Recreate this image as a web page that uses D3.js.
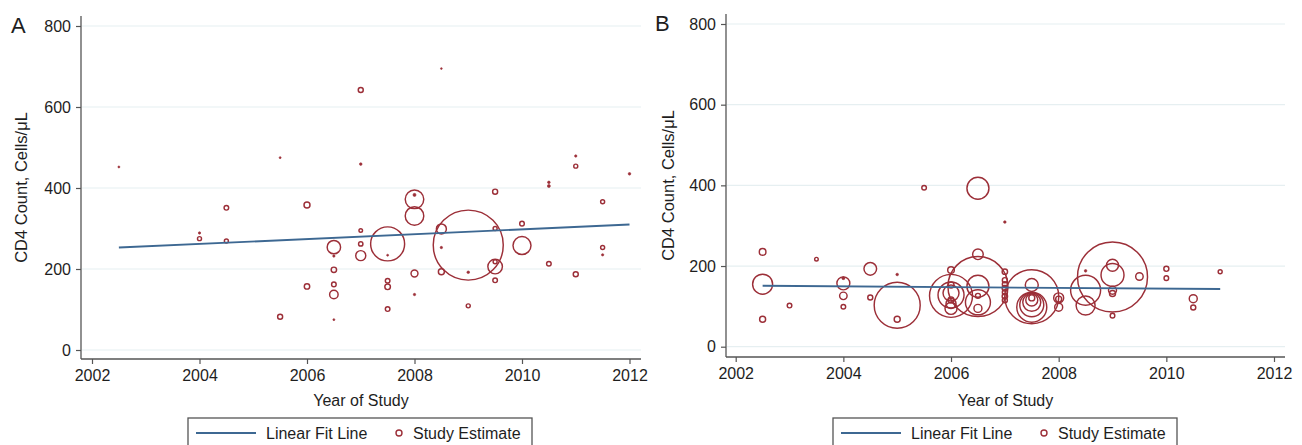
<!DOCTYPE html>
<html>
<head>
<meta charset="utf-8">
<script src="https://cdn.jsdelivr.net/npm/d3@7"></script>
<style>
  body { margin: 0; background: #fff; }
  text { font-family: "Liberation Sans", Arial, Helvetica, sans-serif; fill: #1e1e1e; }
</style>
</head>
<body>
<div id="chart"></div>
<script>
// data: year, CD4 count, study weight (bubble area)
var yearA = [2002.5, 2004, 2004, 2004.5, 2004.5, 2005.5, 2005.5, 2006, 2006,
  2006.5, 2006.5, 2006.5, 2006.5, 2006.5, 2006.5, 2007, 2007, 2007, 2007, 2007,
  2007.5, 2007.5, 2007.5, 2007.5, 2007.5, 2008, 2008, 2008, 2008, 2008,
  2008.5, 2008.5, 2008.5, 2008.5, 2009, 2009, 2009, 2009.5, 2009.5, 2009.5, 2009.5, 2009.5,
  2010, 2010, 2010.5, 2010.5, 2010.5, 2011, 2011, 2011, 2011.5, 2011.5, 2011.5, 2012];
var cd4A = [452, 289, 275, 351, 269, 475, 82, 358, 157,
  254, 232, 198, 162, 137, 75, 642, 459, 295, 262, 233,
  262, 234, 171, 156, 101, 383, 372, 331, 189, 137,
  695, 299, 253, 193, 259, 192, 109, 391, 300, 218, 206, 172,
  312, 258, 414, 405, 213, 479, 454, 187, 366, 253, 235, 435];
var weightA = [1, 1.4, 4, 5.3, 4, 1, 6.3, 9, 7.3,
  45, 1.4, 7.3, 5.3, 18, 1, 6.3, 1.7, 3.2, 4.8, 25,
  289, 1, 5.3, 7.8, 5.3, 2.3, 86, 86, 12, 1.4,
  0.6, 25, 1.4, 9, 1225, 1.7, 4, 6.3, 4, 4, 53, 5.3,
  5.3, 81, 1.7, 2.3, 5.3, 1.4, 4, 6.3, 4, 4, 1.4, 1.7];

var yearB = [2002.5, 2002.5, 2002.5, 2003, 2003.5, 2004, 2004, 2004, 2004, 2004.5, 2004.5,
  2005, 2005, 2005, 2005.5,
  2006, 2006, 2006, 2006, 2006, 2006, 2006, 2006,
  2006.5, 2006.5, 2006.5, 2006.5, 2006.5, 2006.5, 2006.5,
  2007, 2007, 2007, 2007, 2007, 2007, 2007, 2007,
  2007.5, 2007.5, 2007.5, 2007.5, 2007.5, 2007.5, 2007.5,
  2008, 2008, 2008, 2008.5, 2008.5, 2008.5,
  2009, 2009, 2009, 2009, 2009, 2009, 2009.5, 2010, 2010, 2010.5, 2010.5, 2011];
var cd4B = [235, 155, 68, 102, 217, 170, 157, 126, 99, 193, 122,
  179, 103, 68, 394,
  190, 153, 126, 128, 133, 116, 107, 95,
  393, 229, 149, 150, 110, 126, 95,
  309, 186, 165, 155, 145, 135, 125, 115,
  124, 153, 98, 104, 110, 116, 121,
  121, 118, 98, 188, 140, 102,
  173, 202, 178, 140, 132, 77, 174, 193, 170, 119, 97, 186];
var weightB = [11, 100, 9, 5.3, 3.2, 2.3, 42, 14, 5.3, 40, 6.3,
  1.7, 529, 9, 5.3,
  11, 9, 462, 169, 64, 9, 25, 36,
  121, 28, 900, 121, 156, 6.3, 16,
  1.7, 7.3, 6.3, 6.3, 7.3, 6.3, 7.3, 6.3,
  729, 42, 225, 144, 81, 36, 9,
  25, 9, 16, 1.7, 225, 90,
  1225, 36, 132, 16, 9, 5.3, 14, 6.3, 5.3, 16, 6.3, 4];

// linear fit line end points
var fitYearA = [2002.5, 2012];
var fitCd4A = [253, 310];
var fitYearB = [2002.5, 2011];
var fitCd4B = [151, 143];

var yTicks = [0, 200, 400, 600, 800];
var xTicks = [2002, 2004, 2006, 2008, 2010, 2012];

var red = "#9c2f38";
var blue = "#3d6892";

var svg = d3.select("#chart").append("svg")
  .attr("width", 1302)
  .attr("height", 445);

var rScale = d3.scaleSqrt().domain([0, 1225]).range([0, 35]);

function drawPanel(p, years, cd4, weights, fitX, fitY) {
  var g = svg.append("g");
  var x = d3.scaleLinear().domain([2002, 2012]).range([p.x0, p.x1]);
  var y = d3.scaleLinear().domain([0, 800]).range([p.y0, p.y1]);

  // gridlines
  g.selectAll(".grid").data(yTicks).enter().append("line")
    .attr("x1", p.left + 1).attr("x2", p.right)
    .attr("y1", d => y(d)).attr("y2", d => y(d))
    .attr("stroke", "#e6eff1").attr("stroke-width", 1.2);

  // axes
  var yAxis = g.append("g")
    .attr("transform", `translate(${p.left},0)`)
    .call(d3.axisLeft(y).tickValues(yTicks).tickSize(5).tickPadding(5));
  var xAxis = g.append("g")
    .attr("transform", `translate(0,${p.bottom})`)
    .call(d3.axisBottom(x).tickValues(xTicks).tickFormat(d3.format("d")).tickSize(5).tickPadding(6));
  [yAxis, xAxis].forEach(function(a) {
    a.select(".domain").remove();
    a.selectAll("line").attr("stroke", "#555").attr("stroke-width", 1.2);
    a.selectAll("text").style("font-size", "16px").attr("fill", "#1e1e1e");
  });
  g.append("line")
    .attr("x1", p.left).attr("x2", p.left).attr("y1", p.top).attr("y2", p.bottom)
    .attr("stroke", "#555").attr("stroke-width", 1.3);
  g.append("line")
    .attr("x1", p.left).attr("x2", p.right).attr("y1", p.bottom).attr("y2", p.bottom)
    .attr("stroke", "#555").attr("stroke-width", 1.3);

  // bubbles
  var pts = years.map((d, i) => ({ year: d, cd4: cd4[i], w: weights[i] }));
  pts.sort((a, b) => b.w - a.w);
  g.selectAll(".pt").data(pts).enter().append("circle")
    .attr("cx", d => x(d.year))
    .attr("cy", d => y(d.cd4))
    .attr("r", d => Math.max(rScale(d.w), 0.9))
    .attr("fill", d => rScale(d.w) < 1.6 ? red : "none")
    .attr("stroke", red)
    .attr("stroke-width", d => rScale(d.w) < 1.6 ? 0.6 : 1.45);

  // fit line
  g.append("path")
    .datum(fitX.map((d, i) => [d, fitY[i]]))
    .attr("d", d3.line().x(d => x(d[0])).y(d => y(d[1])))
    .attr("stroke", blue).attr("stroke-width", 1.9).attr("fill", "none");

  // titles
  g.append("text")
    .attr("x", p.labelX).attr("y", p.labelY)
    .style("font-size", "22px").text(p.label);
  g.append("text")
    .attr("transform", `translate(${p.ytitleX},${(p.top + p.bottom) / 2}) rotate(-90)`)
    .attr("text-anchor", "middle")
    .style("font-size", "16.5px").text("CD4 Count, Cells/\u03bcL");
  g.append("text")
    .attr("x", (p.left + p.right) / 2).attr("y", 406)
    .attr("text-anchor", "middle")
    .style("font-size", "16px").text("Year of Study");

  // legend
  var lg = g.append("g").attr("transform", `translate(${p.legendX},418)`);
  lg.append("rect").attr("x", 0).attr("y", 0).attr("width", 344).attr("height", 40)
    .attr("fill", "#fff").attr("stroke", "#555").attr("stroke-width", 1.3);
  lg.append("line").attr("x1", 8).attr("x2", 68).attr("y1", 15).attr("y2", 15)
    .attr("stroke", blue).attr("stroke-width", 1.9);
  lg.append("text").attr("x", 78).attr("y", 21).style("font-size", "16px").text("Linear Fit Line");
  lg.append("circle").attr("cx", 211).attr("cy", 15).attr("r", 3)
    .attr("fill", "none").attr("stroke", red).attr("stroke-width", 1.4);
  lg.append("text").attr("x", 225).attr("y", 21).style("font-size", "16px").text("Study Estimate");
}

drawPanel({ left: 81, right: 641, top: 16, bottom: 359, x0: 92, x1: 629.5, y0: 350, y1: 26,
  label: "A", labelX: 11, labelY: 33, ytitleX: 27, legendX: 188 },
  yearA, cd4A, weightA, fitYearA, fitCd4A);
drawPanel({ left: 726, right: 1285, top: 14, bottom: 357, x0: 735.7, x1: 1274, y0: 346.7, y1: 24,
  label: "B", labelX: 655, labelY: 31, ytitleX: 674, legendX: 833 },
  yearB, cd4B, weightB, fitYearB, fitCd4B);
</script>
</body>
</html>
